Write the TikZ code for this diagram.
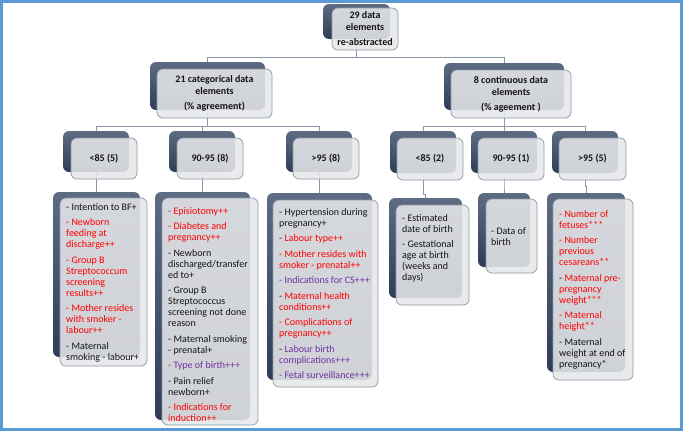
\documentclass[tikz,border=0pt]{standalone}
\usepackage{fontspec}
\setmainfont{Carlito}
\usetikzlibrary{backgrounds}
\definecolor{cred}{HTML}{FF0000}
\definecolor{cpur}{HTML}{7030A0}
\definecolor{ctext}{HTML}{141414}
\definecolor{frameblue}{HTML}{5B9BD5}
\definecolor{linegray}{HTML}{8C96A6}
\definecolor{backtop}{HTML}{5E6C83}
\definecolor{backbot}{HTML}{2E3C55}
\definecolor{frontfill}{HTML}{E6E7E9}
\definecolor{frontdraw}{HTML}{8F99AA}
\newcommand\rd[1]{\textcolor{cred}{#1}}
\newcommand\pu[1]{\textcolor{cpur}{#1}}
\tikzset{
  backbox/.style={rounded corners=6pt, top color=backtop, bottom color=backbot, inner sep=0pt, outer sep=0pt},
  frontbox/.style={rounded corners=6pt, fill=frontfill, fill opacity=0.88, text opacity=1, draw=frontdraw, draw opacity=1, line width=0.7pt, inner sep=0pt, outer sep=0pt, text=ctext},
  headbox/.style={frontbox, align=center, font=\fontsize{10}{12}\selectfont\bfseries},
  listtext/.style={anchor=north west, inner sep=0pt, align=left, text=ctext, font=\fontsize{10}{11}\selectfont},
  conn/.style={draw=linegray, line width=0.7pt},
  frameline/.style={draw=frameblue, line width=3pt}
}
\begin{document}
\begin{tikzpicture}[x=1pt,y=-1pt]
\useasboundingbox (0,0) rectangle (685,431);
\draw[frameline] (1.5,1.5) rectangle (681.5,429.5);

% level 1
\node[backbox, minimum width=67pt, minimum height=35pt] (Tb) at (356.5,21.5) {};
\node[headbox, minimum width=66pt, minimum height=42pt] (Tf) at (365,29) {29 data\\elements\\[3pt]re-abstracted};

% level 2
\node[backbox, minimum width=115pt, minimum height=48pt] (Cb) at (207.5,86) {};
\node[headbox, minimum width=115pt, minimum height=49pt] (Cf) at (214.5,93.5) {21 categorical data\\elements\\[3pt](\% agreement)};
\node[backbox, minimum width=120pt, minimum height=47pt] (Kb) at (504,86.5) {};
\node[headbox, minimum width=120pt, minimum height=48pt] (Kf) at (511,94) {8 continuous data\\elements\\[3pt](\% ageement )};

% level 3
\node[backbox, minimum width=66pt, minimum height=41pt] (L1b) at (96,151.5) {};
\node[headbox, minimum width=66pt, minimum height=41pt] (L1f) at (104,158.5) {<85 (5)};
\node[backbox, minimum width=66pt, minimum height=41pt] (L2b) at (202,151.5) {};
\node[headbox, minimum width=66pt, minimum height=41pt] (L2f) at (210,158.5) {90-95 (8)};
\node[backbox, minimum width=66pt, minimum height=41pt] (L3b) at (319,151.5) {};
\node[headbox, minimum width=66pt, minimum height=41pt] (L3f) at (326,158.5) {>95 (8)};
\node[backbox, minimum width=66pt, minimum height=42pt] (R1b) at (423,152) {};
\node[headbox, minimum width=66pt, minimum height=42pt] (R1f) at (430,159) {<85 (2)};
\node[backbox, minimum width=66pt, minimum height=42pt] (R2b) at (504,152) {};
\node[headbox, minimum width=66pt, minimum height=42pt] (R2f) at (511,159) {90-95 (1)};
\node[backbox, minimum width=66pt, minimum height=42pt] (R3b) at (585,152) {};
\node[headbox, minimum width=67pt, minimum height=42pt] (R3f) at (592.5,159) {>95 (5)};

% level 4
\node[backbox, minimum width=87pt, minimum height=165pt] (B1b) at (96.5,274.5) {};
\node[frontbox, minimum width=87pt, minimum height=168pt] (B1f) at (103.5,282) {};
\node[listtext] (B1t) at (66,203) {- Intention to BF+\\[4.5pt]
\rd{- Newborn}\\ \rd{feeding at}\\ \rd{discharge++}\\[4.5pt]
\rd{- Group B}\\ \rd{Streptococcum}\\ \rd{screening}\\ \rd{results++}\\[4.5pt]
\rd{- Mother resides}\\ \rd{with smoker -}\\ \rd{labour++}\\[4.5pt]
- Maternal\\ smoking - labour+};

\node[backbox, minimum width=95pt, minimum height=228pt] (B2b) at (202.5,306) {};
\node[frontbox, minimum width=96pt, minimum height=227pt] (B2f) at (210,311.5) {};
\node[listtext] (B2t) at (168,207) {\rd{- Episiotomy++}\\[4.5pt]
\rd{- Diabetes and}\\ \rd{pregnancy++}\\[4.5pt]
- Newborn\\ discharged/transfer\\ ed to+\\[4.5pt]
- Group B\\ Streptococcus\\ screening not done\\ reason\\[4.5pt]
- Maternal smoking\\ - prenatal+\\[4.5pt]
\pu{- Type of birth+++}\\[4.5pt]
- Pain relief\\ newborn+\\[4.5pt]
\rd{- Indications for}\\ \rd{induction++}};

\node[backbox, minimum width=105pt, minimum height=187pt] (B3b) at (319.5,286.5) {};
\node[frontbox, minimum width=105pt, minimum height=187pt] (B3f) at (325.5,293.5) {};
\node[listtext] (B3t) at (279,208) {- Hypertension during\\ pregnancy+\\[4.5pt]
- \rd{Labour type++}\\[4.5pt]
\rd{- Mother resides with}\\ \rd{smoker - prenatal++}\\[4.5pt]
\pu{- Indications for CS+++}\\[4.5pt]
- \rd{Maternal health}\\ \rd{conditions++}\\[4.5pt]
\rd{- Complications of}\\ \rd{pregnancy++}\\[4.5pt]
- \pu{Labour birth}\\ \pu{complications+++}\\[4.5pt]
\pu{- Fetal surveillance+++}};

\node[backbox, minimum width=73pt, minimum height=100pt] (B4b) at (425.5,248) {};
\node[frontbox, minimum width=73pt, minimum height=100pt] (B4f) at (432.5,255) {};
\node[listtext] (B4t) at (402,214) {- Estimated\\ date of birth\\[4.5pt]
- Gestational\\ age at birth\\ (weeks and\\ days)};

\node[backbox, minimum width=52pt, minimum height=74pt] (B5b) at (504,230) {};
\node[frontbox, minimum width=51pt, minimum height=74pt] (B5f) at (511.5,236) {};
\node[listtext] (B5t) at (491,227) {- Data of\\ birth};

\node[backbox, minimum width=78pt, minimum height=179pt] (B6b) at (586,282.5) {};
\node[frontbox, minimum width=80pt, minimum height=181pt] (B6f) at (593,289.5) {};
\node[listtext] (B6t) at (559,210) {\rd{- Number of}\\ \rd{fetuses***}\\[4.5pt]
\rd{- Number}\\ \rd{previous}\\ \rd{cesareans**}\\[4.5pt]
- \rd{Maternal pre-}\\ \rd{pregnancy}\\ \rd{weight***}\\[4.5pt]
\rd{- Maternal}\\ \rd{height**}\\[4.5pt]
- Maternal\\ weight at end of\\ pregnancy*};

% connectors
\begin{pgfonlayer}{background}
\draw[conn] (Tb.south) -- (Tb.south |- 0,57) -| (Cb.north);
\draw[conn] (Tb.south |- 0,57) -| (Kb.north);
\draw[conn] (Cb.south) -- (Cb.south |- 0,126) -| (L1b.north);
\draw[conn] (Cb.south |- 0,126) -| (L2b.north);
\draw[conn] (Cb.south |- 0,126) -| (L3b.north);
\draw[conn] (Kb.south) -- (Kb.south |- 0,126) -| (R1b.north);
\draw[conn] (Kb.south |- 0,126) -| (R2b.north);
\draw[conn] (Kb.south |- 0,126) -| (R3b.north);
\draw[conn] (L1b.south) -- (L1b.south |- 0,186) -| (B1b.north);
\draw[conn] (L2b.south) -- (L2b.south |- 0,186) -| (B2b.north);
\draw[conn] (L3b.south) -- (L3b.south |- 0,186) -| (B3b.north);
\draw[conn] (R1b.south) -- (R1b.south |- 0,194) -| (B4b.north);
\draw[conn] (R2b.south) -- (R2b.south |- 0,186) -| (B5b.north);
\draw[conn] (R3b.south) -- (R3b.south |- 0,186) -| (B6b.north);
\end{pgfonlayer}
\end{tikzpicture}
\end{document}
